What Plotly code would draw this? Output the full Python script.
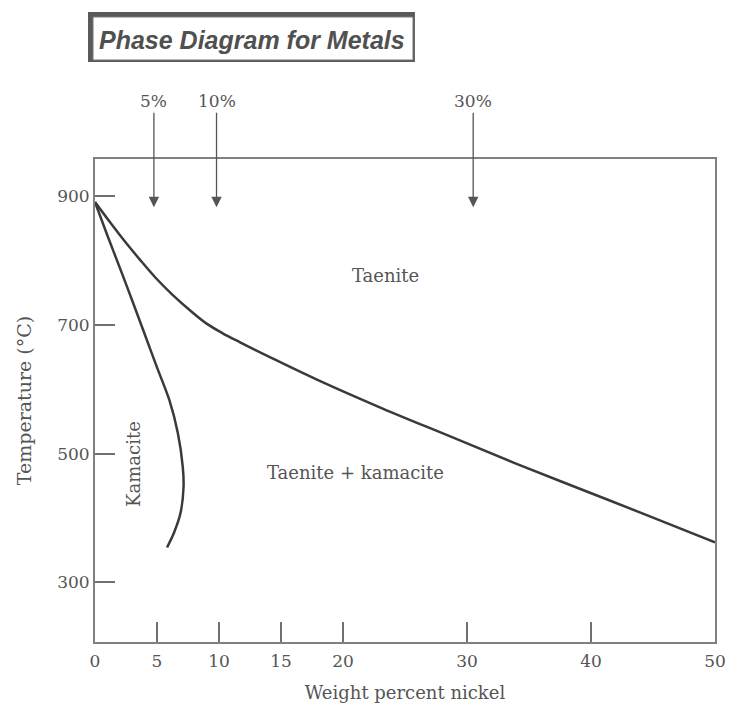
import plotly.graph_objects as go

# ---- data ----
taenite_x = [0, 1.2, 2.4, 3.6, 5.0, 6.3, 7.7, 9.0, 10.3, 11.7, 14.1, 17.9, 23.2, 28.6, 34.0, 39.4, 44.8, 50]
taenite_y = [891, 860, 830, 802, 771, 746, 722, 702, 687, 673, 650, 615, 570, 527, 484, 443, 402, 362]

kamacite_x = [0, 1.0, 2.02, 3.0, 3.98, 5.0, 6.0, 6.68, 7.08, 7.14, 6.90, 6.37, 5.81]
kamacite_y = [891, 839, 788, 738, 687, 634, 583, 532, 479, 448, 408, 377, 354]

x_ticks = [0, 5, 10, 15, 20, 30, 40, 50]
y_ticks = [300, 500, 700, 900]

arrow_labels = ["5%", "10%", "30%"]
arrow_x = [4.75, 9.8, 30.5]

region_labels = ["Taenite", "Taenite + kamacite", "Kamacite"]
region_x = [23.4, 21.0, 3.15]
region_y = [777, 471, 484]
region_angle = [0, 0, -90]

TEXT = "#555555"
LINE = "#3a3a3a"
AXIS = "#808080"
SERIF = "DejaVu Serif"

fig = go.Figure()
fig.add_trace(go.Scatter(x=taenite_x, y=taenite_y, mode="lines",
                         line=dict(color=LINE, width=2.5, shape="spline", smoothing=1.0),
                         hoverinfo="skip", showlegend=False))
fig.add_trace(go.Scatter(x=kamacite_x, y=kamacite_y, mode="lines",
                         line=dict(color=LINE, width=2.5, shape="spline", smoothing=0.8),
                         hoverinfo="skip", showlegend=False))

for lab, xx in zip(arrow_labels, arrow_x):
    fig.add_annotation(x=xx, y=883, xref="x", yref="y", text=lab, showarrow=True,
                       ax=0, ay=-106, arrowhead=2, arrowsize=1.6, arrowwidth=1.3,
                       arrowcolor="#555555", standoff=0,
                       font=dict(family=SERIF, size=17, color=TEXT))

for lab, xx, yy, ang in zip(region_labels, region_x, region_y, region_angle):
    fig.add_annotation(x=xx, y=yy, xref="x", yref="y", text=lab, showarrow=False,
                       textangle=ang, font=dict(family=SERIF, size=18, color=TEXT))

# title box (3D-looking frame)
fig.add_shape(type="rect", xref="paper", yref="paper",
              x0=-0.0113, x1=0.516, y0=1.2008, y1=1.3043,
              fillcolor="#5a5a5a", line=dict(width=0))
fig.add_shape(type="rect", xref="paper", yref="paper",
              x0=-0.0032, x1=0.5129, y0=1.205, y1=1.294,
              fillcolor="white", line=dict(color="#777777", width=1))
fig.add_annotation(x=0.2532, y=1.2464, xref="paper", yref="paper",
                   text="<b><i>Phase Diagram for Metals</i></b>", showarrow=False,
                   xanchor="center", yanchor="middle",
                   font=dict(family="Liberation Sans", size=25, color="#505050"))

fig.update_xaxes(range=[0, 50], tickvals=x_ticks, ticktext=[str(v) for v in x_ticks],
                 ticks="inside", ticklen=20, tickwidth=1.5, tickcolor="#707070",
                 showline=True, linecolor=AXIS, linewidth=2, mirror=True,
                 showgrid=False, zeroline=False, ticklabelstandoff=3, automargin=False,
                 tickfont=dict(family=SERIF, size=17, color=TEXT),
                 title=dict(text="Weight percent nickel", standoff=16,
                            font=dict(family=SERIF, size=18, color=TEXT)))
fig.update_yaxes(range=[207, 958], tickvals=y_ticks, ticktext=[str(v) for v in y_ticks],
                 ticks="inside", ticklen=20, tickwidth=1.5, tickcolor="#707070",
                 showline=True, linecolor=AXIS, linewidth=2, mirror=True,
                 showgrid=False, zeroline=False, automargin=False,
                 tickfont=dict(family=SERIF, size=17, color=TEXT),
                 title=dict(text="Temperature (°C)", standoff=20,
                            font=dict(family=SERIF, size=19, color=TEXT)))

fig.update_layout(width=729, height=707, margin=dict(l=95, r=14, t=159, b=65),
                  plot_bgcolor="white", paper_bgcolor="white", showlegend=False)

fig.write_html("out.html", config={"displayModeBar": False},
               post_script=("document.documentElement.style.margin='0';"
                            "document.documentElement.style.overflow='hidden';"
                            "document.body.style.margin='0';"
                            "document.body.style.overflow='hidden';"))
